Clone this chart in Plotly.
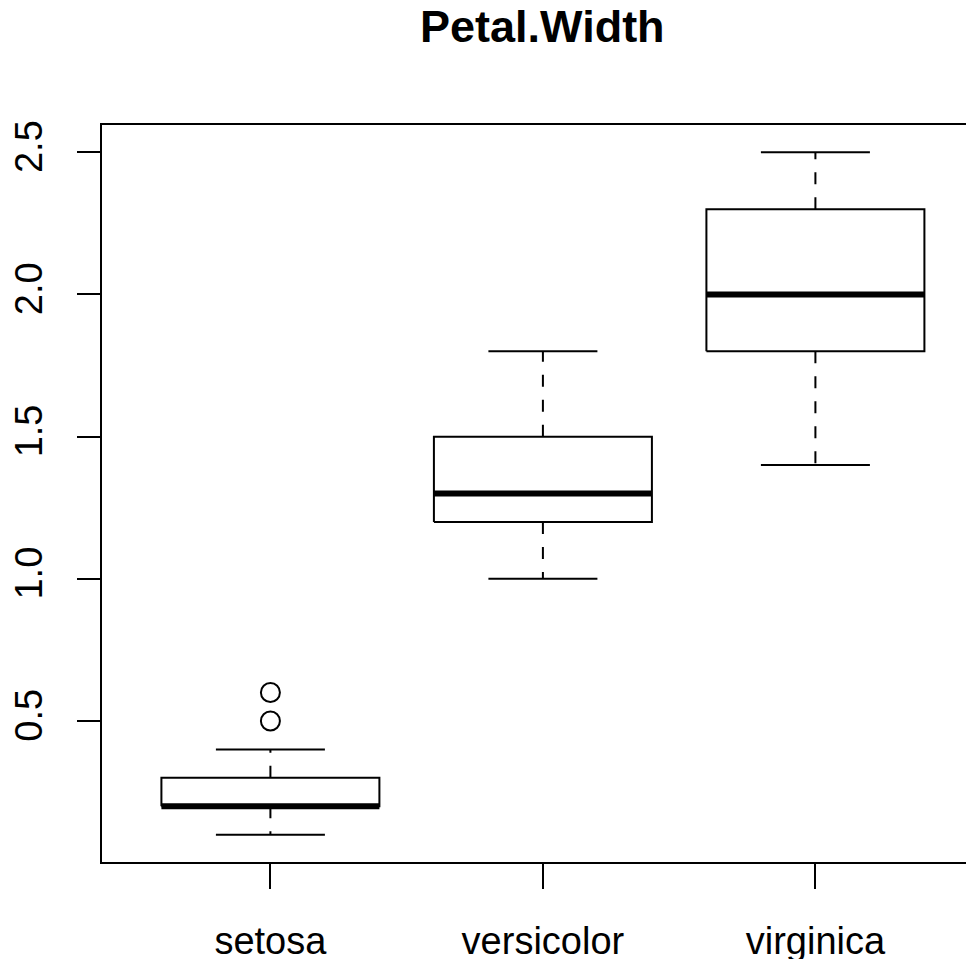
import plotly.graph_objects as go

# iris Petal.Width boxplot stats (R boxplot: lower whisker, Q1, median, Q3, upper whisker)
species = ["setosa", "versicolor", "virginica"]
lower = [0.1, 1.0, 1.4]
q1 = [0.2, 1.2, 1.8]
median = [0.2, 1.3, 2.0]
q3 = [0.3, 1.5, 2.3]
upper = [0.4, 1.8, 2.5]
outlier_group = [1, 1]
outlier_val = [0.5, 0.6]
y_ticks = [0.5, 1.0, 1.5, 2.0, 2.5]
y_ticktext = ["0.5", "1.0", "1.5", "2.0", "2.5"]

FONT = "Liberation Sans, Arial, Helvetica, sans-serif"
half_box = 0.4
half_staple = 0.2

box_x, box_y = [], []
stap_x, stap_y = [], []
wh_x, wh_y = [], []
med_x, med_y = [], []
for i in range(len(species)):
    c = i + 1
    box_x += [c - half_box, c + half_box, c + half_box, c - half_box, c - half_box, None]
    box_y += [q1[i], q1[i], q3[i], q3[i], q1[i], None]
    stap_x += [c - half_staple, c + half_staple, None, c - half_staple, c + half_staple, None]
    stap_y += [lower[i], lower[i], None, upper[i], upper[i], None]
    # whiskers drawn from box edge outwards
    wh_x += [c, c, None, c, c, None]
    wh_y += [q3[i], upper[i], None, q1[i], lower[i], None]
    med_x += [c - half_box, c + half_box, None]
    med_y += [median[i], median[i], None]

fig = go.Figure()
fig.add_trace(go.Scatter(x=wh_x, y=wh_y, mode="lines",
                         line=dict(color="black", width=2, dash="12px,13px")))
fig.add_trace(go.Scatter(x=stap_x, y=stap_y, mode="lines",
                         line=dict(color="black", width=2)))
fig.add_trace(go.Scatter(x=box_x, y=box_y, mode="lines",
                         line=dict(color="black", width=2)))
fig.add_trace(go.Scatter(x=med_x, y=med_y, mode="lines",
                         line=dict(color="black", width=6)))
fig.add_trace(go.Scatter(x=outlier_group, y=outlier_val, mode="markers",
                         marker=dict(symbol="circle-open", size=19, color="black",
                                     line=dict(width=2, color="black"))))

# page body has an 8px margin, so the figure is a bit smaller than the window
fig.update_layout(
    width=966, height=951,
    margin=dict(l=94, r=0, t=117, b=97),
    paper_bgcolor="white", plot_bgcolor="white",
    showlegend=False, hovermode=False,
    font=dict(family=FONT, size=38, color="black"),
)
fig.update_xaxes(
    range=[0.382, 3.582], tickvals=[1, 2, 3], ticktext=species,
    showgrid=False, zeroline=False, automargin=False,
    showline=True, mirror=True, linecolor="black", linewidth=2,
    ticks="outside", ticklen=25, tickwidth=2, tickcolor="black",
    ticklabelstandoff=19,
)
fig.update_yaxes(
    range=[0.004, 2.596], tickvals=y_ticks, ticktext=y_ticktext,
    showgrid=False, zeroline=False, automargin=False,
    showline=True, linecolor="black", linewidth=2,
    ticks="outside", ticklen=23, tickwidth=2, tickcolor="black",
    tickangle=-90, ticklabelstandoff=20,
)
fig.add_annotation(
    text="<b>Petal.Width</b>", xref="paper", yref="paper",
    x=(542 - 102) / 872, y=1 + 98 / 737,
    xanchor="center", yanchor="middle", showarrow=False,
    font=dict(family=FONT, size=45, color="black"),
)

fig.write_html("out.html")
